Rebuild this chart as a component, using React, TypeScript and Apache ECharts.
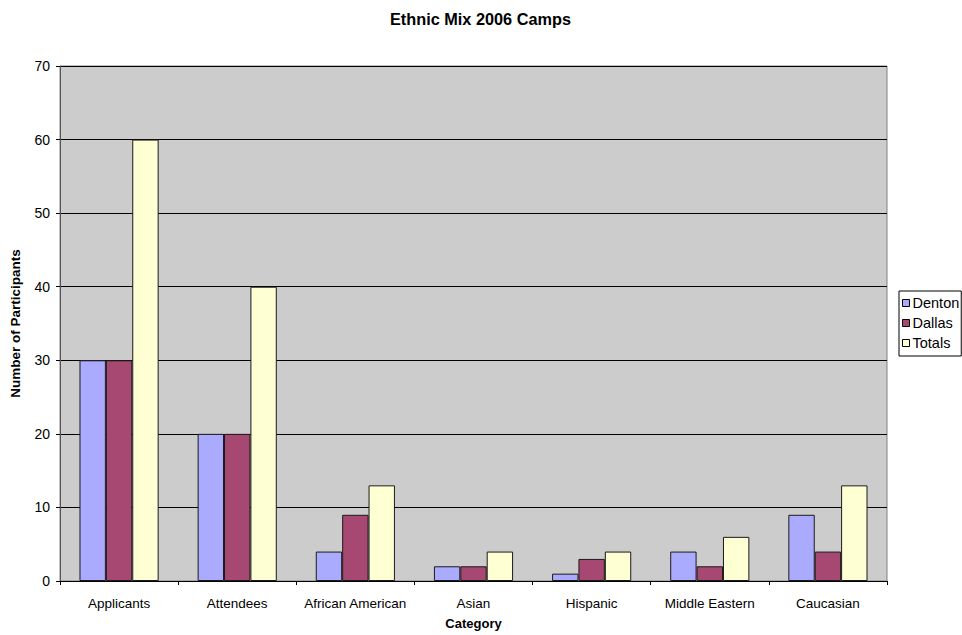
import React, { useEffect, useRef } from "react";
import * as echarts from "echarts";

const categories = [
  "Applicants",
  "Attendees",
  "African American",
  "Asian",
  "Hispanic",
  "Middle Eastern",
  "Caucasian",
];
const denton = [30, 20, 4, 2, 1, 4, 9];
const dallas = [30, 20, 9, 2, 3, 2, 4];
const totals = [60, 40, 13, 4, 4, 6, 13];

const FONT = "'Liberation Sans', Arial, sans-serif";

export default function App() {
  const ref = useRef<HTMLDivElement>(null);

  useEffect(() => {
    if (!ref.current) return;
    const chart = echarts.init(ref.current, undefined, { renderer: "svg" });
    const barStyle = (color: string) => ({
      color,
      borderColor: "#1a1a1a",
      borderWidth: 1,
    });
    chart.setOption({
      animation: false,
      backgroundColor: "#ffffff",
      textStyle: { fontFamily: FONT, color: "#000" },
      title: {
        text: "Ethnic Mix 2006 Camps",
        left: 385,
        top: 6,
        textStyle: { fontFamily: FONT, fontSize: 16.3, fontWeight: "bold", color: "#000" },
      },
      legend: {
        orient: "vertical",
        left: 899,
        top: 291,
        padding: [4, 2, 5, 3],
        borderColor: "#000",
        borderWidth: 1,
        itemWidth: 7,
        itemHeight: 7,
        itemGap: 4,
        icon: "rect",
        textStyle: { fontFamily: FONT, fontSize: 14.5, color: "#000", lineHeight: 16, padding: [0, 0, 0, -2] },
        data: [
          { name: "Denton", itemStyle: { borderColor: "#000", borderWidth: 1 } },
          { name: "Dallas", itemStyle: { borderColor: "#000", borderWidth: 1 } },
          { name: "Totals", itemStyle: { borderColor: "#000", borderWidth: 1 } },
        ],
      },
      grid: {
        left: 60,
        top: 66,
        right: 75,
        bottom: 54,
        show: true,
        backgroundColor: "#cccccc",
        borderColor: "#808080",
        borderWidth: 1,
      },
      xAxis: {
        type: "category",
        data: categories,
        name: "Category",
        nameLocation: "middle",
        nameGap: 36,
        nameTextStyle: { fontFamily: FONT, fontSize: 13, fontWeight: "bold", color: "#000" },
        axisLine: { lineStyle: { color: "#000", width: 1 } },
        axisTick: { show: true, length: 4, lineStyle: { color: "#000" } },
        axisLabel: { fontFamily: FONT, fontSize: 13.5, color: "#000", margin: 15, interval: 0 },
        splitLine: { show: false },
      },
      yAxis: {
        type: "value",
        min: 0,
        max: 70,
        interval: 10,
        name: "Number of Participants",
        nameLocation: "middle",
        nameGap: 38,
        nameTextStyle: { fontFamily: FONT, fontSize: 13.5, fontWeight: "bold", color: "#000" },
        axisLine: { show: true, lineStyle: { color: "#555", width: 1 } },
        axisTick: { show: true, length: 4, lineStyle: { color: "#000" } },
        axisLabel: { fontFamily: FONT, fontSize: 14, color: "#000", margin: 10 },
        splitLine: { show: true, lineStyle: { color: "#000", width: 1 } },
      },
      series: [
        {
          name: "Denton",
          type: "bar",
          data: denton,
          barGap: "0%",
          barCategoryGap: "33%",
          itemStyle: barStyle("#aaaaff"),
        },
        {
          name: "Dallas",
          type: "bar",
          data: dallas,
          itemStyle: barStyle("#a64871"),
        },
        {
          name: "Totals",
          type: "bar",
          data: totals,
          itemStyle: barStyle("#ffffd4"),
        },
      ],
    });
    return () => chart.dispose();
  }, []);

  return <div ref={ref} style={{ width: 962, height: 635, position: "absolute", left: 0, top: 0 }} />;
}
